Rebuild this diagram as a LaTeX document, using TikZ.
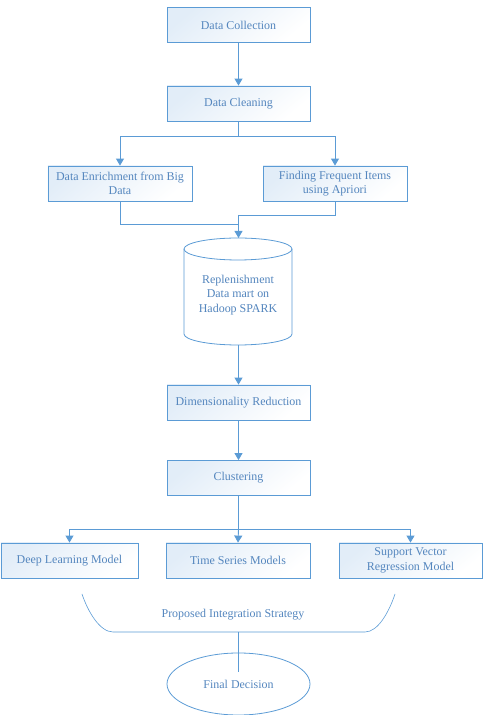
\documentclass[tikz,border=0pt]{standalone}
\usepackage{fontspec}
\setmainfont{Liberation Serif}
\usetikzlibrary{arrows.meta,shapes.geometric}
\definecolor{lineblue}{RGB}{91,155,213}
\definecolor{textblue}{RGB}{84,134,190}
\definecolor{fillblue}{RGB}{226,237,248}
\tikzset{
  box/.style={draw=lineblue, line width=0.8pt, rectangle, minimum height=35bp,
    align=center, inner sep=2pt, text=textblue,
    font=\fontsize{12}{14.5}\selectfont,
    top color=fillblue, bottom color=white, shading angle=40},
  conn/.style={draw=lineblue, line width=0.9pt},
  arr/.style={conn, -{Triangle[width=8bp,length=7bp]}},
  lbl/.style={text=textblue, font=\fontsize{12}{14.5}\selectfont, align=center}
}
\begin{document}
\begin{tikzpicture}[x=1bp,y=1bp]
\useasboundingbox (0,0) rectangle (488,715);
% boxes
\node[box, minimum width=143bp] (dc) at (238.5,690) {Data Collection};
\node[box, minimum width=143bp] (dcl) at (238.5,611.5) {Data Cleaning};
\node[box, minimum width=144bp] (de) at (120,531.5) {Data Enrichment from Big\\Data};
\node[box, minimum width=144bp] (ff) at (335,531.5) {Finding Frequent Items\\using Apriori};
% cylinder
\fill[white] (184,466) -- (184,381) arc[start angle=180,end angle=360,x radius=54,y radius=11] -- (292,466) -- cycle;
\draw[lineblue, line width=0.8pt] (184,466) -- (184,381) arc[start angle=180,end angle=360,x radius=54,y radius=11] -- (292,466);
\draw[lineblue, line width=0.8pt] (238,466) ellipse [x radius=54, y radius=11];
\node[lbl, minimum width=108bp, minimum height=1bp] (cyl) at (238,420) {Replenishment\\Data mart on\\Hadoop SPARK};
\coordinate (cyltop) at (238.5,477);
\coordinate (cylbot) at (238.5,370);
\node[box, minimum width=143bp] (dr) at (238.5,312.5) {Dimensionality Reduction};
\node[box, minimum width=143bp] (cl) at (238.5,237) {Clustering};
\node[box, minimum width=137bp] (dl) at (69.5,154.5) {Deep Learning Model};
\node[box, minimum width=144bp] (ts) at (238,154.5) {Time Series Models};
\node[box, minimum width=143bp] (svr) at (410.5,154.5) {Support Vector\\Regression Model};
\node[lbl] (pis) at (233,100) {Proposed Integration Strategy};
\node[draw=lineblue, line width=0.8pt, ellipse, minimum width=143bp, minimum height=62bp, inner sep=0pt, text=textblue, font=\fontsize{12}{14.5}\selectfont] (fd) at (238.5,31) {Final Decision};
% connectors
\draw[arr] (dc.south) -- (dcl.north);
\coordinate (b1) at (238.5,579);
\draw[conn] (dcl.south) -- (b1);
\draw[arr] (b1) -| (de.north);
\draw[arr] (b1) -| (ff.north);
\coordinate (m1) at (238.5,500);
\draw[conn] (de.south) |- (238.5,491);
\draw[conn] (ff.south) |- (m1);
\draw[arr] (m1) -- (cyltop);
\draw[arr] (cylbot) -- (dr.north);
\draw[arr] (dr.south) -- (cl.north);
\coordinate (b2) at (238.5,186);
\draw[conn] (cl.south) -- (b2);
\draw[arr] (b2) -- (ts.north);
\draw[arr] (b2) -| (dl.north);
\draw[arr] (b2) -| (svr.north);
% bracket
\coordinate (brl) at (82,121);
\coordinate (brr) at (395,121);
\coordinate (brm) at (238.5,83);
\draw[lineblue, line width=0.6pt] (brl) .. controls (88,103) and (100,83) .. (113,83) -- (365,83) .. controls (378,83) and (389,103) .. (brr);
\coordinate (fdin) at (238.5,43);
\draw[lineblue, line width=0.6pt] (brm) -- (fdin);
\end{tikzpicture}
\end{document}
